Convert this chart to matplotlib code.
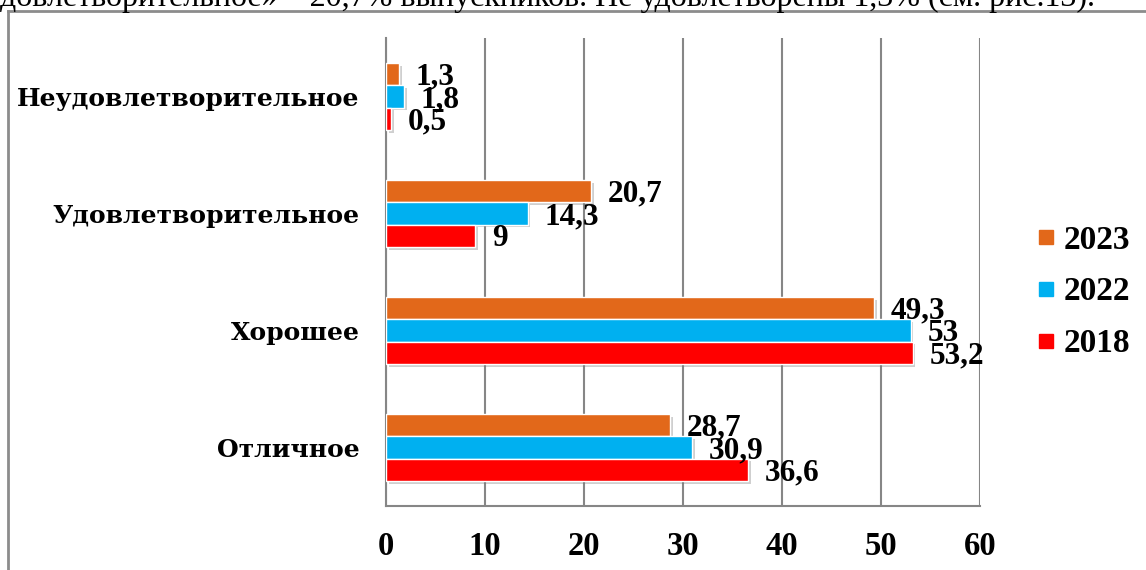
import matplotlib
matplotlib.use("Agg")
import matplotlib.pyplot as plt
from matplotlib.lines import Line2D
import matplotlib.patheffects as pe
import numpy as np

categories = ["Отличное", "Хорошее", "Удовлетворительное", "Неудовлетворительное"]
series_names = ["2023", "2022", "2018"]
vals_2023 = [28.7, 49.3, 20.7, 1.3]
vals_2022 = [30.9, 53, 14.3, 1.8]
vals_2018 = [36.6, 53.2, 9, 0.5]
x_ticks = [0, 10, 20, 30, 40, 50, 60]
colors = ["#E2681A", "#00B0F0", "#FF0000"]
header_text = "довлетворительное» – 20,7% выпускников. Не удовлетворены 1,3% (см. рис.13)."

W, H = 1146, 570
fig = plt.figure(figsize=(W / 100, H / 100), dpi=100)
ax = fig.add_axes([386 / W, 1 - 506 / H, (980 - 386) / W, (506 - 38) / H])

SERIF = ["Liberation Serif", "DejaVu Serif"]
SERIF_WIDE = ["DejaVu Serif"]
y = np.arange(len(categories))
h = 0.19
offsets = [h, 0, -h]
all_vals = [vals_2023, vals_2022, vals_2018]
shadow = [pe.SimplePatchShadow(offset=(2, -2), shadow_rgbFace="#777777", alpha=0.35), pe.Normal()]

for vals, off, col in zip(all_vals, offsets, colors):
    bars = ax.barh(y + off, vals, height=h, color=col, edgecolor="white", linewidth=1.0, zorder=3)
    for b in bars:
        b.set_path_effects(shadow)
    for yi, v in zip(y + off, vals):
        lab = f"{v:g}".replace(".", ",")
        ax.annotate(lab, xy=(v, yi), xytext=(12, -7.5), textcoords="offset points",
                    ha="left", va="baseline", fontsize=22.5, fontweight="bold",
                    family=SERIF, color="black", zorder=5)

ax.set_xlim(0, 60)
ax.set_ylim(-0.5, 3.5)
ax.set_xticks(x_ticks)
ax.set_xticklabels([str(t) for t in x_ticks])
ax.set_yticks(y)
ax.set_yticklabels(categories)
for lbl in ax.get_xticklabels():
    lbl.set_fontsize(23.5); lbl.set_fontweight("bold"); lbl.set_family(SERIF)
for lbl in ax.get_yticklabels():
    lbl.set_fontsize(18); lbl.set_fontweight("bold"); lbl.set_family(SERIF_WIDE)
ax.tick_params(axis="both", length=0)
ax.tick_params(axis="x", pad=18)
ax.tick_params(axis="y", pad=19)
ax.grid(axis="x", color="#868686", linewidth=1.5, zorder=0)
ax.set_axisbelow(True)
for s in ["top", "right"]:
    ax.spines[s].set_visible(False)
for s in ["left", "bottom"]:
    ax.spines[s].set_color("#868686")
    ax.spines[s].set_linewidth(1.5)

handles = [Line2D([0], [0], marker="s", linestyle="none", markersize=9.5,
                  markerfacecolor=c, markeredgecolor=c) for c in colors]
fig.legend(handles, series_names, loc="center left", bbox_to_anchor=(1037 / W, 1 - 292 / H),
           frameon=False, borderpad=0, borderaxespad=0, handlelength=0.55, handletextpad=0.25,
           labelspacing=0.62, prop={"family": SERIF, "weight": "bold", "size": 24})

# page frame and cut-off header line
fig.add_artist(Line2D([8 / W, 1], [1 - 11 / H, 1 - 11 / H], color="#8c8c8c", linewidth=2,
                      transform=fig.transFigure))
fig.add_artist(Line2D([8 / W, 8 / W], [0, 1 - 11 / H], color="#8c8c8c", linewidth=2,
                      transform=fig.transFigure))
fig.text(0 / W, 1 - 6 / H, header_text, ha="left", va="baseline", fontsize=23,
         family=SERIF, color="black")

fig.savefig("out.png", dpi=100)
